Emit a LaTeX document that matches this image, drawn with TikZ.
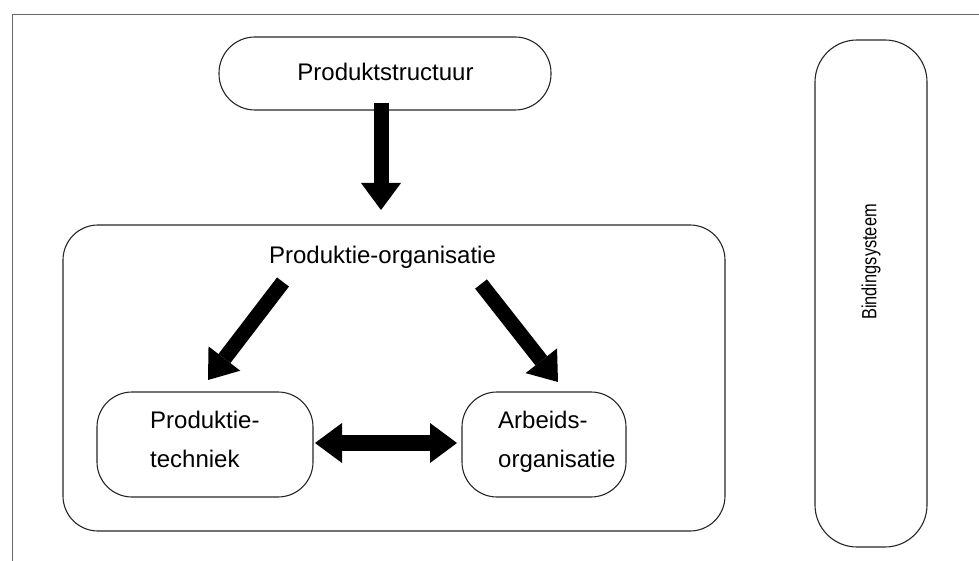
\documentclass[tikz,border=0pt]{standalone}
\usepackage{fontspec}
\setmainfont{Liberation Sans}
\usetikzlibrary{arrows.meta}
\begin{document}
\begin{tikzpicture}[x=1pt,y=-1pt,
  box/.style={draw=black!85, line width=1.1pt, rounded corners=35pt, inner sep=0pt},
  lbl/.style={font=\fontsize{24}{39}\selectfont, align=left, inner sep=0pt},
  frameline/.style={draw=black!60, line width=0.9pt},
  fat/.style={line width=15pt, black, -{Triangle[length=27pt,width=40pt,line width=0pt]}},
  fatboth/.style={line width=16pt, black, {Triangle[length=27pt,width=40pt,line width=0pt]}-{Triangle[length=27pt,width=40pt,line width=0pt]}}]
\useasboundingbox (0,0) rectangle (979,561);
% frame
\draw[frameline] (12,561) -- (12,14) -- (979,14);
% boxes
\node[box, rounded corners=36pt, minimum width=332pt, minimum height=73pt] (ps) at (385,73.5) {};
\node[lbl, anchor=base] at (385.5,81) {Produktstructuur};
\node[box, minimum width=662pt, minimum height=306pt] (po) at (394,378) {};
\node[lbl, anchor=base] (potext) at (382.5,263) {Produktie-organisatie};
\node[box, minimum width=216pt, minimum height=105pt] (pt) at (205,444.5) {};
\node[lbl, anchor=north west] at (150,410.5) {Produktie-\\techniek};
\node[box, minimum width=164pt, minimum height=105pt] (ao) at (544,444.5) {};
\node[lbl, anchor=north west] at (498,410.5) {Arbeids-\\organisatie};
\node[box, rounded corners=42pt, minimum width=112pt, minimum height=507pt] (bs) at (871,293.5) {};
\node[lbl, font=\fontsize{20.5}{24}\selectfont, rotate=90] at (871,262) {\scalebox{0.8}[1]{Bindingsysteem}};
% arrows
\coordinate (a1s) at (381,103);
\coordinate (a1e) at (381,210);
\draw[fat] (a1s) -- (a1e);
\coordinate (a2s) at (283,282);
\coordinate (a2e) at (208,380);
\draw[fat] (a2s) -- (a2e);
\coordinate (a3s) at (481,284);
\coordinate (a3e) at (558,382);
\draw[fat] (a3s) -- (a3e);
\coordinate (a4s) at (315,443);
\coordinate (a4e) at (457,443);
\draw[fatboth] (a4s) -- (a4e);
\end{tikzpicture}
\end{document}
